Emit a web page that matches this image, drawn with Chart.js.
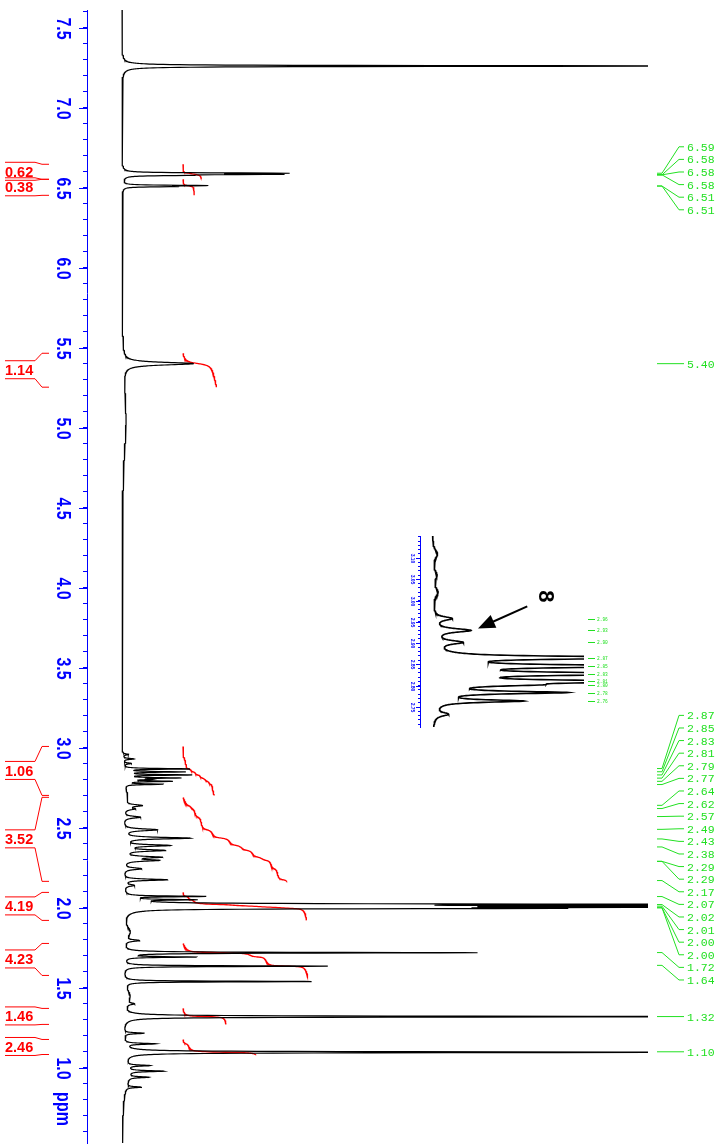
<!DOCTYPE html>
<html>
<head>
<meta charset="utf-8">
<title>1H NMR spectrum</title>
<script src="https://cdn.jsdelivr.net/npm/chart.js@4.4.1/dist/chart.umd.min.js"></script>
<style>
  html, body { margin: 0; padding: 0; background: #fff; }
  #wrap { position: relative; width: 724px; height: 1145px; }
  #mainChart { position: absolute; left: 0; top: 0; }
  #insetChart { position: absolute; left: 390px; top: 528px; }
</style>
</head>
<body>
<div id="wrap">
  <canvas id="mainChart" width="724" height="1145"></canvas>
  <canvas id="insetChart" width="222" height="204"></canvas>
</div>
<script>
  var BLUE = '#0000ff', RED = '#ff0000', GREEN = '#22e022';

  // main spectrum: peak position (ppm), height (intensity), half width (ppm)
  var peakPpm = [7.260, 6.590, 6.583, 6.577, 6.513, 6.507, 5.400, 5.050,
    2.958, 2.930, 2.902, 2.868, 2.849, 2.830, 2.811, 2.802, 2.790, 2.772, 2.700,
    2.639, 2.618, 2.566, 2.487, 2.435, 2.389, 2.358, 2.316, 2.296, 2.244, 2.175, 2.140,
    2.071, 2.050, 2.021, 2.011, 2.003, 1.996, 1.850, 1.795, 1.719, 1.692, 1.635, 1.539,
    1.450, 1.400, 1.320, 1.216, 1.150, 1.097, 1.014, 0.979, 0.950, 0.941, 0.879];
  var peakHeight = [700, 150, 140, 45, 80, 45, 70, 4,
    6, 11, 8, 66, 60, 66, 54, 20, 46, 38, 5,
    17, 10, 17, 34, 66, 45, 40, 36, 33, 18, 44, 10,
    78, 62, 700, 500, 430, 360, 7, 14, 355, 70, 205, 188,
    7, 8, 700, 20, 30, 700, 22, 35, 6, 20, 15];
  var peakWidth = [0.0025, 0.0025, 0.0025, 0.0025, 0.0025, 0.0025, 0.010, 0.25,
    0.004, 0.004, 0.004, 0.0028, 0.0028, 0.0028, 0.0028, 0.0028, 0.0028, 0.0028, 0.05,
    0.007, 0.007, 0.007, 0.007, 0.006, 0.006, 0.006, 0.006, 0.006, 0.007, 0.005, 0.007,
    0.003, 0.003, 0.0028, 0.0028, 0.0028, 0.0028, 0.04, 0.006, 0.0028, 0.0028, 0.0028, 0.0028,
    0.05, 0.006, 0.0028, 0.004, 0.004, 0.0028, 0.004, 0.004, 0.1, 0.004, 0.004];

  // integrals: region start, region end (ppm) and value
  var integralFrom = [6.646, 6.552, 5.465, 3.008, 2.690, 2.096, 1.777, 1.371, 1.177];
  var integralTo = [6.552, 6.452, 5.253, 2.702, 2.165, 1.921, 1.577, 1.271, 1.083];
  var integralValue = [0.62, 0.38, 1.14, 1.06, 3.52, 4.19, 4.23, 1.46, 2.46];

  // peak picking labels (ppm)
  var peakLabels = [6.59, 6.58, 6.58, 6.58, 6.51, 6.51, 5.40,
    2.87, 2.85, 2.83, 2.81, 2.79, 2.77, 2.64, 2.62, 2.57, 2.49, 2.43, 2.38, 2.29, 2.29,
    2.17, 2.07, 2.02, 2.01, 2.00, 2.00, 1.72, 1.64, 1.32, 1.10];

  // inset (expansion of the 3.0 - 2.7 ppm multiplet)
  var insetPpm = [3.110, 3.060, 3.020, 2.958, 2.930, 2.902, 2.866, 2.846, 2.828, 2.810,
    2.802, 2.784, 2.764, 2.733];
  var insetHeight = [5, 4, 5, 18, 36, 26, 250, 235, 245, 225, 65, 125, 85, 14];
  var insetWidth = [0.012, 0.012, 0.012, 0.005, 0.005, 0.005, 0.0034, 0.0034, 0.0034, 0.0034,
    0.0034, 0.0034, 0.0034, 0.005];
  var insetLabels = [2.958, 2.930, 2.902, 2.866, 2.846, 2.828, 2.810, 2.802, 2.784, 2.764];

  function buildSpectrum(pos, hgt, wid, from, to, step) {
    var pts = [], n = Math.round((from - to) / step);
    for (var i = 0; i <= n; i++) {
      var v = from - i * step, s = 0;
      for (var k = 0; k < pos.length; k++) {
        var d = (v - pos[k]) / wid[k];
        s += hgt[k] / (1 + d * d);
      }
      pts.push({ x: s, y: v });
    }
    return pts;
  }

  function integralCurve(spec, from, to, value) {
    var seg = spec.filter(function (p) { return p.y <= from && p.y >= to; });
    var total = seg.reduce(function (s, p) { return s + p.x; }, 0);
    var acc = 0;
    return seg.map(function (p) {
      acc += p.x;
      return { x: 61 + value * 29.5 * acc / total, y: p.y };
    });
  }

  function rotatedText(ctx, s, x, y, font, color, stretch) {
    ctx.save();
    ctx.translate(x, y);
    ctx.rotate(Math.PI / 2);
    ctx.scale(1, stretch);
    ctx.font = font;
    ctx.fillStyle = color;
    ctx.textAlign = 'center';
    ctx.textBaseline = 'middle';
    ctx.fillText(s, 0, 0);
    ctx.restore();
  }

  function stepTicks(step) {
    return function (s) {
      var t = [];
      for (var k = Math.ceil(s.min / step - 1e-6); k <= Math.floor(s.max / step + 1e-6); k++) {
        t.push({ value: Math.round(k * step * 1000) / 1000 });
      }
      s.ticks = t;
    };
  }

  var mainSpec = buildSpectrum(peakPpm, peakHeight, peakWidth, 7.61, 0.53, 0.0008);

  var mainSets = [{
    data: mainSpec, borderColor: '#000', borderWidth: 1.2, showLine: true, pointRadius: 0
  }];
  integralValue.forEach(function (val, i) {
    mainSets.push({
      data: integralCurve(mainSpec, integralFrom[i], integralTo[i], val),
      borderColor: RED, borderWidth: 1.3, showLine: true, pointRadius: 0
    });
  });

  var mainDecor = {
    id: 'mainDecor',
    afterDraw: function (chart) {
      var ctx = chart.ctx, ys = chart.scales.y, area = chart.chartArea;
      ctx.save();
      ctx.lineWidth = 1;

      // major ticks and rotated labels every 0.5 ppm
      ys.ticks.forEach(function (t) {
        var v = t.value;
        if (Math.abs(v * 2 - Math.round(v * 2)) > 1e-6) return;
        var py = Math.round(ys.getPixelForValue(v)) + 0.5;
        ctx.strokeStyle = BLUE;
        ctx.beginPath(); ctx.moveTo(area.left - 8, py); ctx.lineTo(area.left, py); ctx.stroke();
        rotatedText(ctx, v.toFixed(1), 63, py, 'bold 16px "Liberation Sans"', BLUE, 1.25);
      });
      rotatedText(ctx, 'ppm', 63, ys.bottom - 34, 'bold 16px "Liberation Sans"', BLUE, 1.25);

      // integral labels with brackets
      ctx.font = 'bold 14.5px "Liberation Sans"';
      ctx.textAlign = 'left';
      ctx.textBaseline = 'middle';
      integralValue.forEach(function (val, i) {
        var y1 = ys.getPixelForValue(integralFrom[i]), y2 = ys.getPixelForValue(integralTo[i]);
        var c = (y1 + y2) / 2;
        ctx.fillStyle = RED;
        ctx.fillText(val.toFixed(2), 5, c + 1);
        ctx.strokeStyle = RED;
        ctx.beginPath();
        ctx.moveTo(5, c - 9.5); ctx.lineTo(35, c - 9.5); ctx.lineTo(42, y1); ctx.lineTo(49, y1);
        ctx.moveTo(5, c + 8.5); ctx.lineTo(35, c + 8.5); ctx.lineTo(42, y2); ctx.lineTo(49, y2);
        ctx.stroke();
      });

      // peak labels, spread out where they would overlap
      var gap = 12.6;
      var groups = peakLabels.map(function (v) { return [{ v: v, py: ys.getPixelForValue(v) }]; });
      function span(g) {
        var m = g.reduce(function (s, it) { return s + it.py; }, 0) / g.length;
        var top = m - (g.length - 1) * gap / 2;
        return { top: top, bottom: top + (g.length - 1) * gap };
      }
      var changed = true;
      while (changed) {
        changed = false;
        for (var i = 0; i < groups.length - 1; i++) {
          if (span(groups[i]).bottom + gap > span(groups[i + 1]).top) {
            groups.splice(i, 2, groups[i].concat(groups[i + 1]));
            changed = true;
            break;
          }
        }
      }
      var x0 = area.right + 9;
      ctx.font = '11.5px "Liberation Mono"';
      ctx.fillStyle = GREEN;
      ctx.strokeStyle = GREEN;
      groups.forEach(function (g) {
        var top = span(g).top;
        g.forEach(function (it, j) {
          var ly = top + j * gap;
          ctx.beginPath();
          ctx.moveTo(x0, it.py); ctx.lineTo(x0 + 5, it.py);
          ctx.lineTo(x0 + 22, ly); ctx.lineTo(x0 + 27, ly);
          ctx.stroke();
          ctx.fillText(it.v.toFixed(2), x0 + 30, ly + 1);
        });
      });
      ctx.restore();
    }
  };

  new Chart(document.getElementById('mainChart').getContext('2d'), {
    type: 'scatter',
    data: { datasets: mainSets },
    options: {
      responsive: false,
      animation: false,
      devicePixelRatio: 1,
      events: [],
      layout: { padding: { top: 10, bottom: 2, left: 0, right: 76 } },
      plugins: { legend: { display: false }, tooltip: { enabled: false } },
      scales: {
        x: { type: 'linear', min: -35, max: 526, display: false },
        y: {
          type: 'linear', min: 0.53, max: 7.61,
          afterBuildTicks: stepTicks(0.1),
          afterFit: function (s) { s.width = 87; },
          ticks: { display: false },
          grid: { drawOnChartArea: false, color: BLUE, tickLength: 4 },
          border: { color: BLUE, width: 1 }
        }
      }
    },
    plugins: [mainDecor]
  });

  // inset chart
  var insetSpec = buildSpectrum(insetPpm, insetHeight, insetWidth, 3.152, 2.703, 0.0004);

  var insetDecor = {
    id: 'insetDecor',
    afterDraw: function (chart) {
      var ctx = chart.ctx, ys = chart.scales.y, xs = chart.scales.x, area = chart.chartArea;
      ctx.save();
      ctx.lineWidth = 1;
      ys.ticks.forEach(function (t) {
        var v = t.value;
        if (Math.abs(v * 20 - Math.round(v * 20)) > 1e-6) return;
        var py = Math.round(ys.getPixelForValue(v)) + 0.5;
        if (py < area.top + 5 || py > area.bottom - 3) return;
        ctx.strokeStyle = BLUE;
        ctx.beginPath(); ctx.moveTo(area.left - 4, py); ctx.lineTo(area.left, py); ctx.stroke();
        rotatedText(ctx, v.toFixed(2), area.left - 8, py, 'bold 5px "Liberation Sans"', BLUE, 1);
      });

      ctx.strokeStyle = GREEN;
      ctx.fillStyle = GREEN;
      ctx.font = '4.5px "Liberation Mono"';
      ctx.textAlign = 'left';
      ctx.textBaseline = 'middle';
      insetLabels.forEach(function (v) {
        var py = Math.round(ys.getPixelForValue(v)) + 0.5;
        ctx.beginPath(); ctx.moveTo(area.right + 4, py); ctx.lineTo(area.right + 11, py); ctx.stroke();
        ctx.fillText(v.toFixed(2), area.right + 13, py);
      });

      // arrow pointing at the 2.93 ppm signal
      var k = insetPpm.indexOf(2.930);
      var tx = xs.getPixelForValue(insetHeight[k]) + 10, ty = ys.getPixelForValue(2.930) - 2;
      var dx = 0.912, dy = -0.41;
      ctx.strokeStyle = '#000';
      ctx.fillStyle = '#000';
      ctx.lineWidth = 2;
      ctx.beginPath(); ctx.moveTo(tx + dx * 12, ty + dy * 12); ctx.lineTo(tx + dx * 54, ty + dy * 54); ctx.stroke();
      var bx = tx + dx * 17, by = ty + dy * 17;
      ctx.beginPath();
      ctx.moveTo(tx, ty);
      ctx.lineTo(bx - dy * 7, by + dx * 7);
      ctx.lineTo(bx + dy * 7, by - dx * 7);
      ctx.closePath();
      ctx.fill();
      rotatedText(ctx, '8', tx + 67, ty - 32, 'bold 22px "Liberation Sans"', '#000', 1);
      ctx.restore();
    }
  };

  new Chart(document.getElementById('insetChart').getContext('2d'), {
    type: 'scatter',
    data: {
      datasets: [{
        data: insetSpec, borderColor: '#000', borderWidth: 1.6, showLine: true, pointRadius: 0
      }]
    },
    options: {
      responsive: false,
      animation: false,
      devicePixelRatio: 1,
      events: [],
      layout: { padding: { top: 8, bottom: 5, left: 0, right: 28 } },
      plugins: { legend: { display: false }, tooltip: { enabled: false } },
      scales: {
        x: { type: 'linear', min: -12, max: 152, display: false },
        y: {
          type: 'linear', min: 2.703, max: 3.152,
          afterBuildTicks: stepTicks(0.01),
          afterFit: function (s) { s.width = 30; },
          ticks: { display: false },
          grid: { drawOnChartArea: false, color: BLUE, tickLength: 2 },
          border: { color: BLUE, width: 1 }
        }
      }
    },
    plugins: [insetDecor]
  });
</script>
</body>
</html>
